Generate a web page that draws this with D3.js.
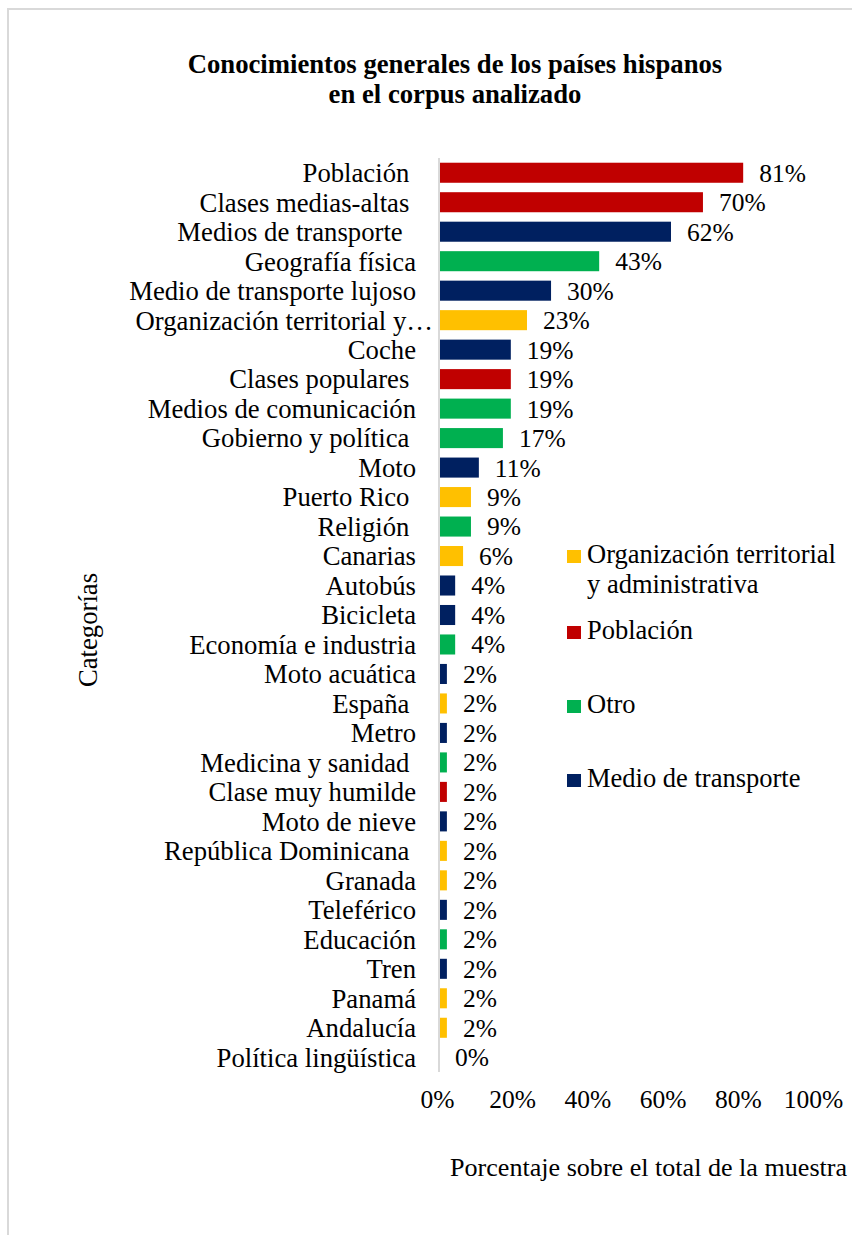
<!DOCTYPE html>
<html>
<head>
<meta charset="utf-8">
<script src="https://cdn.jsdelivr.net/npm/d3@7"></script>
<style>
  html, body { margin: 0; padding: 0; background: #fff; }
  svg, svg text { font-family: 'Liberation Serif', 'Times New Roman', serif; }
  svg { display: block; }
  text { white-space: pre; fill: #000; }
</style>
</head>
<body>
<script>
'use strict'

// categories in display order (top to bottom), trailing spaces as in the source labels
const categories = [
  'Población ', 'Clases medias-altas ', 'Medios de transporte  ', 'Geografía física',
  'Medio de transporte lujoso', 'Organización territorial y…', 'Coche', 'Clases populares ',
  'Medios de comunicación', 'Gobierno y política ', 'Moto', 'Puerto Rico ', 'Religión ',
  'Canarias', 'Autobús', 'Bicicleta', 'Economía e industria', 'Moto acuática', 'España ',
  'Metro', 'Medicina y sanidad ', 'Clase muy humilde', 'Moto de nieve',
  'República Dominicana ', 'Granada', 'Teleférico', 'Educación', 'Tren', 'Panamá',
  'Andalucía', 'Política lingüística'
]
// percentage of the sample
const values = [
  80.9, 70.2, 61.7, 42.6, 29.8, 23.4, 19.1, 19.1, 19.1, 17.0, 10.6, 8.5, 8.5, 6.4,
  4.3, 4.3, 4.3, 2.1, 2.1, 2.1, 2.1, 2.1, 2.1, 2.1, 2.1, 2.1, 2.1, 2.1, 2.1, 2.1, 0
]
const groups = [
  'Población', 'Población', 'Medio de transporte', 'Otro',
  'Medio de transporte', 'Organización territorial y administrativa', 'Medio de transporte', 'Población',
  'Otro', 'Otro', 'Medio de transporte', 'Organización territorial y administrativa', 'Otro',
  'Organización territorial y administrativa', 'Medio de transporte', 'Medio de transporte', 'Otro',
  'Medio de transporte', 'Organización territorial y administrativa', 'Medio de transporte', 'Otro',
  'Población', 'Medio de transporte', 'Organización territorial y administrativa',
  'Organización territorial y administrativa', 'Medio de transporte', 'Otro', 'Medio de transporte',
  'Organización territorial y administrativa', 'Organización territorial y administrativa', 'Otro'
]
const legendKeys = ['Organización territorial y administrativa', 'Población', 'Otro', 'Medio de transporte']
const legendLines = [['Organización territorial', 'y administrativa'], ['Población'], ['Otro'], ['Medio de transporte']]
const groupColors = ['#FFC000', '#C00000', '#00B050', '#002060']
const xTicks = [0, 20, 40, 60, 80, 100]
const titleLines = ['Conocimientos generales de los países hispanos', 'en el corpus analizado']

const width = 852
const height = 1235
const serif = "'Liberation Serif', 'Times New Roman', serif"
const fontSize = 26.7

const svg = d3.select('body').append('svg')
  .attr('width', width)
  .attr('height', height)
  .attr('font-family', serif)

// chart area border (runs off the right and bottom edge)
svg.append('rect')
  .attr('x', 8).attr('y', 9)
  .attr('width', 1000).attr('height', 1400)
  .attr('fill', '#fff')
  .attr('stroke', '#d9d9d9')
  .attr('stroke-width', 2)

svg.append('g')
  .selectAll('text')
  .data(titleLines)
  .enter()
  .append('text')
  .attr('x', 455)
  .attr('y', function (d, i) { return 73 + i * 30 })
  .attr('text-anchor', 'middle')
  .attr('font-weight', 'bold')
  .attr('font-size', 26.7)
  .text(function (d) { return d })

const color = d3.scaleOrdinal().domain(legendKeys).range(groupColors)
const scaleX = d3.scaleLinear().domain([0, 100]).range([439, 815])
const scaleY = d3.scaleBand()
  .domain(d3.range(categories.length))
  .range([158, 1072])
  .paddingInner(0.32)
  .paddingOuter(0.16)

const rows = svg.append('g').attr('class', 'rows')
  .selectAll('g')
  .data(values)
  .enter()
  .append('g')

rows.append('rect')
  .attr('x', scaleX(0))
  .attr('y', function (d, i) { return scaleY(i) })
  .attr('width', function (d) { return scaleX(d) - scaleX(0) })
  .attr('height', scaleY.bandwidth())
  .attr('fill', function (d, i) { return color(groups[i]) })

rows.append('text')
  .attr('x', function (d) { return scaleX(d) + 16 })
  .attr('y', function (d, i) { return scaleY(i) + scaleY.bandwidth() / 2 })
  .attr('dy', '0.35em')
  .attr('font-size', 25.5)
  .text(function (d) { return Math.round(d) + '%' })

rows.append('text')
  .attr('x', function (d, i) { return categories[i].endsWith('…') ? 433 : 416 })
  .attr('y', function (d, i) { return scaleY(i) + scaleY.bandwidth() / 2 })
  .attr('dy', '0.35em')
  .attr('text-anchor', 'end')
  .attr('font-size', fontSize)
  .text(function (d, i) { return categories[i] })

// vertical axis line
svg.append('line')
  .attr('x1', scaleX(0)).attr('x2', scaleX(0))
  .attr('y1', 158).attr('y2', 1072)
  .attr('stroke', '#d9d9d9')
  .attr('stroke-width', 2)

// x axis: labels only
const axisX = d3.axisBottom(scaleX)
  .tickValues(xTicks)
  .tickSize(0)
  .tickPadding(0)
  .tickFormat(function (d) { return d + '%' })
const gx = svg.append('g')
  .attr('transform', 'translate(-2,1090)')
  .call(axisX)
  .attr('font-family', serif)
  .attr('font-size', 25.5)
gx.select('.domain').remove()
gx.selectAll('text').attr('fill', '#000')

svg.append('text')
  .attr('x', 450)
  .attr('y', 1176)
  .attr('font-size', 26.1)
  .text('Porcentaje sobre el total de la muestra')

svg.append('text')
  .attr('transform', 'translate(97,630) rotate(-90)')
  .attr('text-anchor', 'middle')
  .attr('font-size', fontSize)
  .text('Categorías')

// legend
const legend = svg.append('g').attr('class', 'legend')
  .selectAll('g')
  .data(legendKeys)
  .enter()
  .append('g')
  .attr('transform', function (d, i) {
    const ys = [563, 639, 713, 787]
    return 'translate(567,' + ys[i] + ')'
  })
legend.append('rect')
  .attr('x', 0).attr('y', -13)
  .attr('width', 14).attr('height', 13)
  .attr('fill', function (d) { return color(d) })
legend.append('text')
  .attr('font-size', 26.5)
  .selectAll('tspan')
  .data(function (d, i) { return legendLines[i] })
  .enter()
  .append('tspan')
  .attr('x', 20)
  .attr('y', function (d, j) { return j * 30 })
  .text(function (d) { return d })
</script>
</body>
</html>
